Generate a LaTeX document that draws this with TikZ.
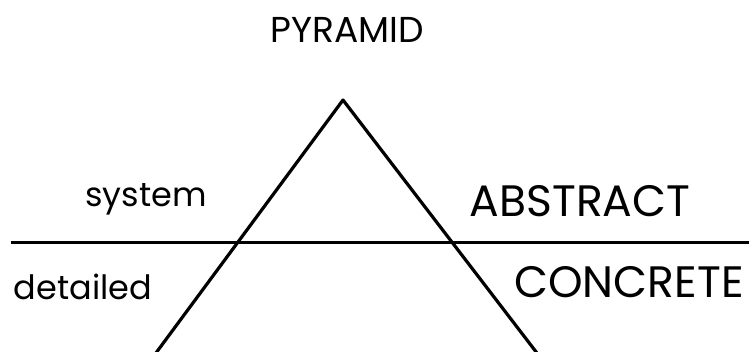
\documentclass[tikz,border=0pt]{standalone}
\usepackage{fontspec}
\setmainfont{Poppins}
\usetikzlibrary{positioning}

\begin{document}
\begin{tikzpicture}[
    x=1pt, y=-1pt,
    every node/.style={align=center, inner sep=0pt},
    title/.style={
        font=\fontsize{36}{40}\selectfont,
        anchor=base
    },
    level/.style={
        font=\fontsize{44}{48}\selectfont,
        anchor=base
    },
    side/.style={
        font=\fontsize{33.5}{37}\selectfont,
        anchor=base
    },
    edge/.style={
        line width=3.2pt,
        draw=black,
        line join=round
    },
    divider/.style={
        line width=3pt,
        draw=black
    }
]
\useasboundingbox (0,0) rectangle (749,352);

\coordinate (apex) at (343,100);
\coordinate (baseL) at (153,357);
\coordinate (baseR) at (540,357);
\coordinate (divL) at (11,243);
\coordinate (divR) at (749,243);

\node[title] (pyramid) at (347,43) {PYRAMID};
\node[side] (system) at (146,207) {system};
\node[level] (abstract) at (580,217) {ABSTRACT};
\node[side] (detailed) at (83,300) {detailed};
\node[level] (concrete) at (629,298) {CONCRETE};

\draw[edge] (baseL) -- (apex) -- (baseR);
\draw[divider] (divL) -- (divR);
\end{tikzpicture}
\end{document}
